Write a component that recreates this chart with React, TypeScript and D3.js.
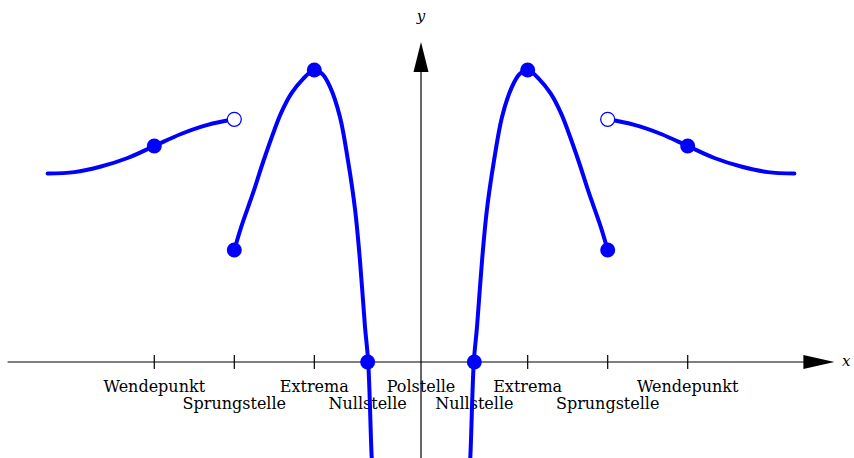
import React from "react";
import * as d3 from "d3";

const W = 854;
const H = 458;

// Left outer branch (x < -7)
const leftOuterX = [-14, -13, -12, -11, -10, -9, -8, -7];
const leftOuterY = [7.07, 7.12, 7.33, 7.65, 8.1, 8.55, 8.89, 9.1];
// Left inner branch (-7 .. pole)
const leftInnerX = [-7, -6.74, -6.3, -5.92, -5.49, -5.24, -4.86, -4.42, -4.0, -3.7, -3.41, -3.04, -2.74, -2.47, -2.29, -2.1, -1.98, -1.85, -1.8];
const leftInnerY = [4.2, 5.07, 6.33, 7.5, 8.72, 9.35, 10.07, 10.62, 10.95, 10.8, 10.32, 9.2, 7.57, 5.7, 3.82, 1.32, 0, -3.55, -4.3];
// Right inner branch (pole .. 7)
const rightInnerX = [1.8, 1.85, 1.98, 2.1, 2.29, 2.47, 2.74, 3.04, 3.41, 3.7, 4.0, 4.42, 4.86, 5.24, 5.49, 5.92, 6.3, 6.74, 7];
const rightInnerY = [-4.3, -3.55, 0, 1.32, 3.82, 5.7, 7.57, 9.2, 10.32, 10.8, 10.95, 10.62, 10.07, 9.35, 8.72, 7.5, 6.33, 5.07, 4.2];
// Right outer branch (x > 7)
const rightOuterX = [7, 8, 9, 10, 11, 12, 13, 14];
const rightOuterY = [9.1, 8.89, 8.55, 8.1, 7.65, 7.33, 7.12, 7.07];

// Marked points
const filledX = [-10, -7, -4, -2, 2, 4, 7, 10];
const filledY = [8.1, 4.2, 10.95, 0, 0, 10.95, 4.2, 8.1];
const openX = [-7, 7];
const openY = [9.1, 9.1];

// Axis labels
const tickX = [-10, -7, -4, -2, 2, 4, 7, 10];
const labelX = [-10, -7, -4, -2, 0, 2, 4, 7, 10];
const labelText = ["Wendepunkt", "Sprungstelle", "Extrema", "Nullstelle", "Polstelle", "Nullstelle", "Extrema", "Sprungstelle", "Wendepunkt"];
const labelRow = [1, 2, 1, 2, 1, 2, 1, 2, 1];

const x = d3.scaleLinear().domain([-15.5, 15.5]).range([7.6, 834.4]);
const y = d3.scaleLinear().domain([-3.6, 12]).range([458, 42]);

const line = d3
  .line<[number, number]>()
  .x((d) => x(d[0]))
  .y((d) => y(d[1]))
  .curve(d3.curveCatmullRom.alpha(0.5));

const zip = (a: number[], b: number[]): [number, number][] => a.map((v, i) => [v, b[i]]);

const branches = [
  zip(leftOuterX, leftOuterY),
  zip(leftInnerX, leftInnerY),
  zip(rightInnerX, rightInnerY),
  zip(rightOuterX, rightOuterY),
];

export default function App() {
  const x0 = x(0);
  const y0 = y(0);
  const xArrowTip = x(15.5);
  const yArrowTip = y(12);
  const font = "'DejaVu Serif', serif";
  return (
    <svg
      width={W}
      height={H}
      style={{ position: "absolute", left: 0, top: 0, background: "#fff" }}
    >
      {/* x axis */}
      <line x1={x(-15.5)} x2={xArrowTip - 28} y1={y0} y2={y0} stroke="#000" strokeWidth={1.2} />
      <path
        d={`M${xArrowTip},${y0} L${xArrowTip - 31},${y0 - 7} L${xArrowTip - 31},${y0 + 7} Z`}
        fill="#000"
      />
      {/* y axis */}
      <line x1={x0} x2={x0} y1={H} y2={yArrowTip + 28} stroke="#000" strokeWidth={1.2} />
      <path
        d={`M${x0},${yArrowTip} L${x0 - 7.5},${yArrowTip + 30} L${x0 + 7.5},${yArrowTip + 30} Z`}
        fill="#000"
      />
      {/* ticks */}
      {tickX.map((t, i) => (
        <line key={i} x1={x(t)} x2={x(t)} y1={y0 - 7} y2={y0 + 7} stroke="#000" strokeWidth={1.2} />
      ))}
      {/* labels */}
      {labelX.map((t, i) => (
        <text
          key={i}
          x={x(t)}
          y={labelRow[i] === 1 ? 392 : 409}
          textAnchor="middle"
          fontFamily={font}
          fontSize={16}
          fill="#000"
        >
          {labelText[i]}
        </text>
      ))}
      <text x={x0} y={21} textAnchor="middle" fontFamily={font} fontStyle="italic" fontSize={15}>
        y
      </text>
      <text x={842} y={366} textAnchor="start" fontFamily={font} fontStyle="italic" fontSize={15}>
        x
      </text>
      {/* curves */}
      {branches.map((b, i) => (
        <path key={i} d={line(b) || ""} fill="none" stroke="#0000ff" strokeWidth={4} strokeLinecap="round" />
      ))}
      {/* points */}
      {filledX.map((px, i) => (
        <circle key={i} cx={x(px)} cy={y(filledY[i])} r={7.5} fill="#0000ff" />
      ))}
      {openX.map((px, i) => (
        <circle key={i} cx={x(px)} cy={y(openY[i])} r={7} fill="#fff" stroke="#0000ff" strokeWidth={1.3} />
      ))}
    </svg>
  );
}
